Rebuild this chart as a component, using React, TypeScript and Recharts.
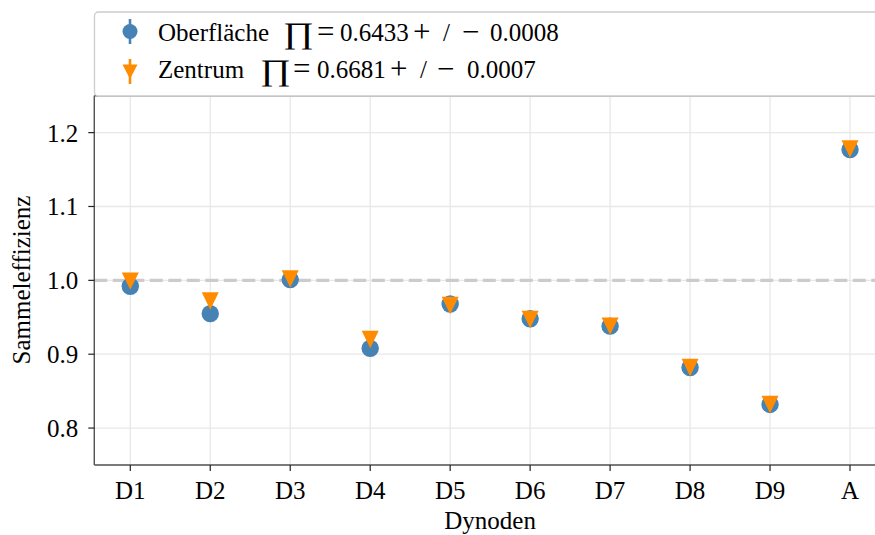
import React from 'react';
import {
  ScatterChart,
  Scatter,
  XAxis,
  YAxis,
  CartesianGrid,
  ReferenceLine,
  Label,
} from 'recharts';

const categories = ['D1', 'D2', 'D3', 'D4', 'D5', 'D6', 'D7', 'D8', 'D9', 'A'];
const oberflaeche = [0.992, 0.955, 1.001, 0.908, 0.968, 0.948, 0.938, 0.882, 0.832, 1.177];
const zentrum = [0.999, 0.972, 1.002, 0.920, 0.966, 0.947, 0.938, 0.882, 0.832, 1.178];
const seriesNames = [
  'Oberfläche ∏ = 0.6433 + / − 0.0008',
  'Zentrum ∏ = 0.6681 + / − 0.0007',
];
const yTicks = [0.8, 0.9, 1.0, 1.1, 1.2];
const xTicks = categories.map((_, i) => i);

const oData = categories.map((c, i) => ({ x: i, y: oberflaeche[i], name: c }));
const zData = categories.map((c, i) => ({ x: i, y: zentrum[i], name: c }));

const BLUE = '#4682b4';
const ORANGE = '#ff8c00';
const FONT = '"Liberation Serif", "DejaVu Serif", serif';
const FS = 25;

// token start positions for the legend entries (layout only)
const legendTokenX = [
  [158, 283, 317, 340, 413, 443, 462, 490],
  [158, 260, 293, 317, 390, 420, 437, 467],
];
const legendBaseline = [40.7, 77.5];
const OPS = ['=', '+', '−'];

const CircleShape = (props: any) => {
  const { cx, cy } = props;
  if (cx == null || cy == null) return null;
  return <circle cx={cx} cy={cy} r={8.7} fill={BLUE} />;
};

const TriShape = (props: any) => {
  const { cx, cy } = props;
  if (cx == null || cy == null) return null;
  const w = 8.5;
  const h = 8.7;
  return (
    <polygon
      points={`${cx - w},${cy - h} ${cx + w},${cy - h} ${cx},${cy + h}`}
      fill={ORANGE}
    />
  );
};

const LegendText = ({ idx }: { idx: number }) => {
  const tokens = seriesNames[idx].split(' ');
  const xs = legendTokenX[idx];
  const y = legendBaseline[idx];
  return (
    <g>
      {tokens.map((t, i) => {
        if (t === '∏') {
          return (
            <text
              key={i}
              transform={`translate(${xs[i]},${y + 2}) scale(1.25,1)`}
              x={0}
              y={0}
              fontFamily={FONT}
              fontSize={30}
              fill="#000"
            >
              {t}
            </text>
          );
        }
        if (OPS.includes(t)) {
          return (
            <text key={i} x={xs[i]} y={y + 1} fontFamily={FONT} fontSize={31} fill="#000">
              {t}
            </text>
          );
        }
        return (
          <text key={i} x={xs[i]} y={y} fontFamily={FONT} fontSize={FS} fill="#000">
            {t}
          </text>
        );
      })}
    </g>
  );
};

const Legendbox = () => (
  <svg
    width={875}
    height={100}
    style={{ position: 'absolute', left: 0, top: 0, pointerEvents: 'none' }}
  >
    <rect x={94.5} y={12} width={800} height={84} rx={4} fill="#fff" stroke="#cccccc" strokeWidth={1.3} />
    <line x1={130} x2={130} y1={19} y2={44} stroke={BLUE} strokeWidth={2.6} />
    <circle cx={130} cy={31.5} r={7.5} fill={BLUE} />
    <line x1={130} x2={130} y1={59} y2={84} stroke={ORANGE} strokeWidth={2.6} />
    <polygon points={`${122.5},${64.5} ${137.5},${64.5} ${130},${79}`} fill={ORANGE} />
    <LegendText idx={0} />
    <LegendText idx={1} />
  </svg>
);

export default function App() {
  return (
    <div
      style={{
        position: 'fixed',
        left: 0,
        top: 0,
        width: 875,
        height: 535,
        overflow: 'hidden',
        background: '#fff',
      }}
    >
      <ScatterChart
        width={900}
        height={535}
        margin={{ top: 95.7, right: 14, bottom: 30, left: 34.3 }}
        style={{ fontFamily: FONT }}
      >
        <CartesianGrid stroke="#e8e8e8" strokeWidth={1.3} />
        <XAxis
          type="number"
          dataKey="x"
          domain={[-0.45, 9.45]}
          ticks={xTicks}
          tickFormatter={(v: number) => categories[v] ?? ''}
          height={40}
          allowDataOverflow
          interval={0}
          axisLine={{ stroke: '#555', strokeWidth: 1.4 }}
          tickLine={{ stroke: '#222', strokeWidth: 1.2 }}
          tickSize={6}
          tickMargin={10}
          tick={{ fill: '#000', fontSize: FS, fontFamily: FONT }}
        >
          <Label
            content={(p: any) => {
              const vb = p.viewBox || {};
              return (
                <text
                  x={vb.x + vb.width / 2}
                  y={529}
                  textAnchor="middle"
                  fontFamily={FONT}
                  fontSize={FS}
                  fill="#000"
                >
                  Dynoden
                </text>
              );
            }}
          />
        </XAxis>
        <YAxis
          type="number"
          dataKey="y"
          domain={[0.75, 1.25]}
          ticks={yTicks}
          tickFormatter={(v: number) => v.toFixed(1)}
          width={60}
          allowDataOverflow
          interval={0}
          axisLine={{ stroke: '#555', strokeWidth: 1.4 }}
          tickLine={{ stroke: '#222', strokeWidth: 1.2 }}
          tickSize={6}
          tickMargin={10}
          tick={{ fill: '#000', fontSize: FS, fontFamily: FONT }}
        >
          <Label
            content={() => (
              <text
                x={30}
                y={280}
                transform="rotate(-90, 30, 280)"
                textAnchor="middle"
                fontFamily={FONT}
                fontSize={FS}
                fill="#000"
              >
                Sammeleffizienz
              </text>
            )}
          />
        </YAxis>
        <ReferenceLine y={1.25} stroke="#666" strokeWidth={1.4} />
        <ReferenceLine y={1.0} stroke="#cccccc" strokeWidth={3.3} strokeDasharray="13 5.5" />
        <Scatter
          name={seriesNames[0]}
          data={oData}
          fill={BLUE}
          shape={CircleShape}
          isAnimationActive={false}
        />
        <Scatter
          name={seriesNames[1]}
          data={zData}
          fill={ORANGE}
          shape={TriShape}
          isAnimationActive={false}
        />
      </ScatterChart>
      <Legendbox />
    </div>
  );
}
